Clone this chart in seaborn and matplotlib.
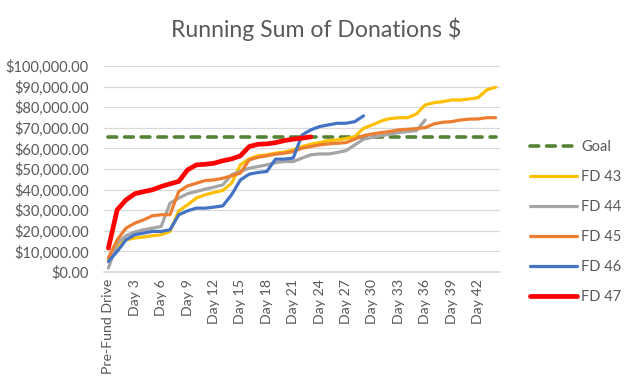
import matplotlib
matplotlib.use("Agg")
import matplotlib.pyplot as plt
import numpy as np
import pandas as pd
import seaborn as sns

# category labels: Pre-Fund Drive, Day 1 ... Day 44
categories = ["Pre-Fund Drive"] + [f"Day {d}" for d in range(1, 45)]

goal = 65500

fd43 = [6000, 12400, 15600, 16500, 17000, 17600, 18100, 19700, 29700, 32600,
        35900, 37500, 38600, 39600, 43100, 52000, 54900, 56400, 56900, 57700,
        58200, 59300, 60900, 62000, 62800, 63800, 64100, 64800, 65700, 69800,
        71400, 73300, 74500, 74900, 74900, 76700, 81100, 82200, 82700, 83500,
        83500, 84000, 84600, 88400, 89700]

fd44 = [1900, 14000, 17600, 19400, 20500, 21300, 22100, 33400, 35900, 38000,
        39100, 40200, 41200, 42300, 47200, 48800, 50400, 51200, 52000, 53100,
        53600, 53600, 55300, 56900, 57300, 57300, 58000, 58900, 61700, 64500,
        65400, 66200, 66900, 67700, 68200, 68600, 73800]

fd45 = [6800, 15600, 21300, 23700, 25300, 27300, 27800, 27800, 39100, 41800,
        43100, 44400, 44700, 45500, 46700, 48000, 54400, 55700, 56400, 57200,
        57700, 58500, 60100, 60900, 61700, 62200, 62500, 62800, 64500, 66200,
        67000, 67700, 68200, 69000, 69300, 69600, 70100, 71900, 72700, 73000,
        73800, 74200, 74300, 74900, 74900]

fd46 = [5100, 10000, 15600, 18100, 18900, 19700, 19700, 20500, 27800, 29700,
        31000, 31000, 31500, 32100, 37500, 44700, 47500, 48300, 48800, 54800,
        54800, 55300, 66500, 69000, 70600, 71400, 72200, 72200, 73000, 75800]

fd47 = [11600, 30200, 35000, 38000, 39000, 39900, 41500, 42800, 44000, 49600,
        52000, 52300, 52800, 54000, 54900, 56400, 60900, 62000, 62200, 62800,
        63800, 64500, 65000, 65600]

series = {"FD 43": fd43, "FD 44": fd44, "FD 45": fd45, "FD 46": fd46, "FD 47": fd47}
colors = {"Goal": "#548235", "FD 43": "#FFC000", "FD 44": "#A5A5A5",
          "FD 45": "#ED7D31", "FD 46": "#4472C4", "FD 47": "#FF0000"}
widths = {"FD 43": 2.3, "FD 44": 2.3, "FD 45": 2.3, "FD 46": 2.3, "FD 47": 3.4}

sns.set_theme(style="white")
plt.rcParams["font.family"] = ["Lato", "DejaVu Sans"]
text_col = "#595959"

fig = plt.figure(figsize=(6.36, 3.86), dpi=100)
ax = fig.add_axes([104 / 636, 1 - 272 / 386, 396 / 636, 206 / 386])

idx = np.arange(len(categories))
goal_df = pd.DataFrame({"idx": idx, "value": [goal] * len(categories)})
sns.lineplot(data=goal_df, x="idx", y="value", ax=ax, color=colors["Goal"],
             linewidth=2.6, label="Goal", dashes=False)
ax.lines[-1].set_dashes((2.4, 2.2))
ax.lines[-1].set_dash_capstyle("round")

for name, vals in series.items():
    df = pd.DataFrame({"idx": np.arange(len(vals)), "value": vals})
    sns.lineplot(data=df, x="idx", y="value", ax=ax, color=colors[name],
                 linewidth=widths[name], label=name)
    ax.lines[-1].set_solid_capstyle("round")

ax.set_xlim(-0.5, len(categories) - 0.5)
ax.set_ylim(0, 100000)
ax.set_yticks(np.arange(0, 100001, 10000))
ax.set_yticklabels([f"${v:,.2f}" for v in range(0, 100001, 10000)])
tick_pos = idx[::3]
ax.set_xticks(tick_pos)
ax.set_xticklabels([categories[i] for i in tick_pos], rotation=90)
ax.tick_params(axis="both", colors=text_col, length=0)
ax.tick_params(axis="y", labelsize=10.5, pad=11)
ax.tick_params(axis="x", labelsize=10.2, pad=5)
ax.set_xlabel("")
ax.set_ylabel("")
ax.grid(axis="y", color="#D9D9D9", linewidth=0.9)
ax.set_axisbelow(True)
for s in ["top", "right", "left"]:
    ax.spines[s].set_visible(False)
ax.spines["bottom"].set_color("#D9D9D9")

fig.suptitle("Running Sum of Donations $", x=0.497, y=0.955, fontsize=16.6,
             color=text_col)

ax.legend(loc="upper left", bbox_to_anchor=(517 / 636, 1 - 127 / 386),
          bbox_transform=fig.transFigure, frameon=False, fontsize=10.5,
          handlelength=3.2, labelspacing=1.1, handletextpad=0.3,
          labelcolor=text_col)

fig.savefig("out.png", dpi=100)
plt.close(fig)
